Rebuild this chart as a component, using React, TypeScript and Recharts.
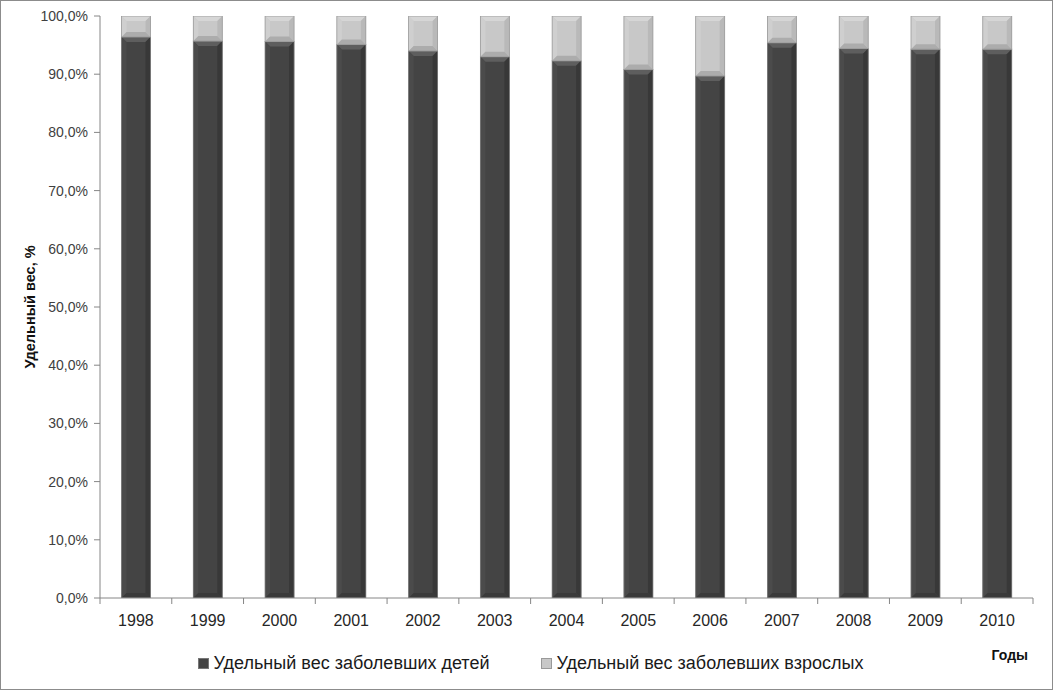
import React from 'react';
import { BarChart, Bar, XAxis, YAxis, Legend, Label } from 'recharts';

const years = ['1998', '1999', '2000', '2001', '2002', '2003', '2004', '2005', '2006', '2007', '2008', '2009', '2010'];
const childrenShare = [96.4, 95.7, 95.6, 95.1, 94.0, 93.0, 92.3, 90.8, 89.7, 95.4, 94.4, 94.3, 94.3];
const adultShare = [3.6, 4.3, 4.4, 4.9, 6.0, 7.0, 7.7, 9.2, 10.3, 4.6, 5.6, 5.7, 5.7];
const yTicks = [0, 10, 20, 30, 40, 50, 60, 70, 80, 90, 100];
const seriesNames = ['Удельный вес заболевших детей', 'Удельный вес заболевших взрослых'];

const data = years.map((y, i) => ({ year: y, children: childrenShare[i], adults: adultShare[i] }));

const W = 1053;
const H = 690;
const M = { top: 16, right: 20, left: 0, bottom: 28 };
const Y_W = 100;
const PLOT_W = W - M.left - M.right - Y_W;
const BAND = PLOT_W / years.length;

const AXIS = '#868686';
const FONT = '"Liberation Sans", Arial, sans-serif';

const makeBevel = (base: string, top: string, left: string, right: string, bottom: string, stroke: string) =>
  (props: any) => {
    const { x, y, width, height } = props;
    if (!height || height <= 0) return null;
    const b = Math.min(5, height / 2, width / 2);
    return (
      <g>
        <rect x={x} y={y} width={width} height={height} fill={base} />
        <polygon points={`${x},${y} ${x + width},${y} ${x + width - b},${y + b} ${x + b},${y + b}`} fill={top} />
        <polygon points={`${x},${y} ${x + b},${y + b} ${x + b},${y + height - b} ${x},${y + height}`} fill={left} />
        <polygon points={`${x + width},${y} ${x + width - b},${y + b} ${x + width - b},${y + height - b} ${x + width},${y + height}`} fill={right} />
        <polygon points={`${x},${y + height} ${x + b},${y + height - b} ${x + width - b},${y + height - b} ${x + width},${y + height}`} fill={bottom} />
        <rect x={x} y={y} width={width} height={height} fill="none" stroke={stroke} strokeWidth={0.8} />
      </g>
    );
  };

const DarkShape = makeBevel('#444444', '#5e5e5e', '#4b4b4b', '#383838', '#3a3a3a', '#7a7a7a');
const LightShape = makeBevel('#c8c8c8', '#d6d6d6', '#cfcfcf', '#b9b9b9', '#acacac', '#9a9a9a');

const XTick = (props: any) => {
  const { x, y, payload, index } = props;
  const left = x - BAND / 2;
  return (
    <g>
      <line x1={left} y1={y} x2={left} y2={y + 6} stroke={AXIS} />
      {index === years.length - 1 && <line x1={x + BAND / 2} y1={y} x2={x + BAND / 2} y2={y + 6} stroke={AXIS} />}
      <text x={x} y={y + 28} textAnchor="middle" fontSize={16} fill="#262626" fontFamily={FONT}>
        {payload.value}
      </text>
    </g>
  );
};

const LegendContent = () => (
  <div style={{ display: 'flex', justifyContent: 'center', alignItems: 'center', height: 24, fontFamily: FONT, fontSize: 18, color: '#1a1a1a', paddingLeft: 8 }}>
    <span style={{ display: 'inline-block', width: 9, height: 9, background: '#444', border: '1px solid #777', marginRight: 5 }} />
    <span style={{ marginRight: 52 }}>{seriesNames[0]}</span>
    <span style={{ display: 'inline-block', width: 9, height: 9, background: '#c8c8c8', border: '1px solid #999', marginRight: 4 }} />
    <span>{seriesNames[1]}</span>
  </div>
);

export default function App() {
  return (
    <div style={{ position: 'absolute', left: 0, top: 0, width: W, height: H, boxSizing: 'border-box', border: '1px solid #8c8c8c', background: '#fff' }}>
      <div style={{ position: 'absolute', left: -1, top: -1 }}>
        <BarChart width={W} height={H} data={data} margin={M} barCategoryGap="30%">
          <XAxis
            dataKey="year"
            height={40}
            stroke={AXIS}
            tickLine={false}
            tickSize={0}
            tickMargin={0}
            tick={<XTick />}
            interval={0}
          >
            <Label
              content={(p: any) => {
                const vb = p.viewBox;
                return (
                  <text x={vb.x + vb.width - 5} y={vb.y + 62} textAnchor="end" fontSize={14} fontWeight="bold" fill="#111" fontFamily={FONT}>
                    Годы
                  </text>
                );
              }}
            />
          </XAxis>
          <YAxis
            width={Y_W}
            domain={[0, 100]}
            ticks={yTicks}
            stroke={AXIS}
            tickSize={6}
            tickMargin={6}
            tick={{ fontSize: 14, fill: '#404040', fontFamily: FONT }}
            tickFormatter={(v: number) => `${v.toFixed(1).replace('.', ',')}%`}
            allowDataOverflow
          >
            <Label
              content={(p: any) => {
                const vb = p.viewBox;
                const cx = 30;
                const cy = vb.y + vb.height / 2;
                return (
                  <text x={cx} y={cy} textAnchor="middle" dominantBaseline="central" transform={`rotate(-90 ${cx} ${cy})`} fontSize={14.5} fontWeight="bold" fill="#111" fontFamily={FONT}>
                    Удельный вес, %
                  </text>
                );
              }}
            />
          </YAxis>
          <Legend verticalAlign="bottom" content={<LegendContent />} wrapperStyle={{ bottom: 15, left: 0, width: W }} />
          <Bar dataKey="children" name={seriesNames[0]} stackId="a" fill="#444444" shape={DarkShape} isAnimationActive={false} />
          <Bar dataKey="adults" name={seriesNames[1]} stackId="a" fill="#c8c8c8" shape={LightShape} isAnimationActive={false} />
        </BarChart>
      </div>
    </div>
  );
}
